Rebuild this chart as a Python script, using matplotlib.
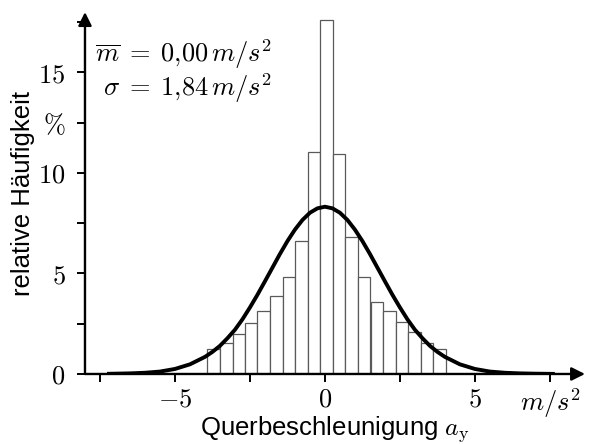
import numpy as np
import matplotlib.pyplot as plt

plt.rcParams['mathtext.fontset'] = 'cm'

# Histogramm der Querbeschleunigung
bin_centers = [-3.71, -3.29, -2.87, -2.46, -2.04, -1.62, -1.20, -0.78, -0.36, 0.06,
               0.47, 0.89, 1.31, 1.73, 2.15, 2.57, 2.98, 3.40, 3.82]
bin_width = 0.418
rel_freq = [1.23, 1.53, 1.97, 2.55, 3.13, 3.88, 4.84, 6.63, 11.06, 17.6,
            10.93, 6.83, 4.84, 3.57, 3.15, 2.57, 2.10, 1.53, 1.23]

curve_x = [-7.2, -7.0, -6.5, -6.0, -5.5, -5.0, -4.5, -4.0, -3.75, -3.5, -3.25, -3.0,
           -2.75, -2.5, -2.25, -2.0, -1.75, -1.5, -1.25, -1.0, -0.75, -0.5, -0.25, 0.0,
           0.25, 0.5, 0.75, 1.0, 1.25, 1.5, 1.75, 2.0, 2.25, 2.5, 2.75, 3.0, 3.25, 3.5,
           3.75, 4.0, 4.5, 5.0, 5.5, 6.0, 6.5, 7.0, 7.6]
curve_y = [0.01, 0.015, 0.03, 0.06, 0.12, 0.25, 0.48, 0.85, 1.10, 1.40, 1.78, 2.20,
           2.72, 3.31, 3.94, 4.61, 5.29, 5.97, 6.61, 7.18, 7.66, 8.02, 8.24, 8.32,
           8.24, 8.02, 7.66, 7.18, 6.61, 5.97, 5.29, 4.61, 3.94, 3.31, 2.72, 2.20, 1.78, 1.40,
           1.10, 0.85, 0.48, 0.25, 0.12, 0.06, 0.03, 0.015, 0.005]

xticks = [-7.5, -5, -2.5, 0, 2.5, 5, 7.5]
xticklabels = ['', '$-5$', '', '$0$', '', '$5$', '$m/s^2$']
yticks = [0, 2.5, 5, 7.5, 10, 12.5, 15, 17.5]
yticklabels = ['$0$', '', '$5$', '', '$10$', r'$\%$', '$15$', '']

fig = plt.figure(figsize=(6.04, 4.44), dpi=100)
ax = fig.add_axes([0.1407, 0.1577, 0.8278, 0.815])

ax.bar(bin_centers, rel_freq, width=bin_width, color='white',
       edgecolor='#5a5a5a', linewidth=0.9, zorder=2)
ax.plot(curve_x, curve_y, color='black', lw=2.8, zorder=3)

ax.set_xlim(-8, 8.67)
ax.set_ylim(0, 18)
for s in ax.spines.values():
    s.set_visible(False)

# Achsen mit Pfeilspitzen
arrow = dict(arrowstyle='-|>', lw=1.7, color='black', mutation_scale=20,
             shrinkA=0, shrinkB=0)
ax.annotate('', xy=(8.67, 0), xytext=(-8, 0), arrowprops=arrow,
            annotation_clip=False, zorder=4)
ax.annotate('', xy=(-8, 18), xytext=(-8, 0), arrowprops=arrow,
            annotation_clip=False, zorder=4)

ax.set_xticks(xticks)
ax.set_xticklabels(xticklabels)
ax.set_yticks(yticks)
ax.set_yticklabels(yticklabels)
ax.tick_params(direction='out', length=6, width=1.4, labelsize=19)
ax.tick_params(axis='y', pad=8)
ax.tick_params(axis='x', pad=3)

ax.set_xlabel(r'Querbeschleunigung $a_\mathrm{y}$', family='Liberation Sans',
              fontsize=18.5, labelpad=-4.5)
ax.set_ylabel('relative Häufigkeit', family='Liberation Sans', fontsize=18.5,
              labelpad=2)

ax.text(0.374, 0.885, r'$\overline{m}\;=\;0{,}00\,m/s^2$', transform=ax.transAxes,
        ha='right', va='center', fontsize=19)
ax.text(0.374, 0.79, r'$\sigma\;=\;1{,}84\,m/s^2$', transform=ax.transAxes,
        ha='right', va='center', fontsize=19)

fig.savefig('out.png', dpi=100)
